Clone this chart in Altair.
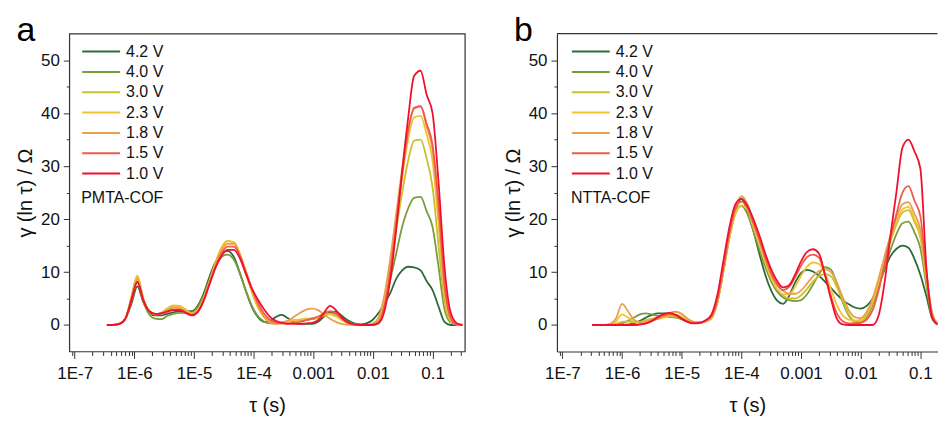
import math
import altair as alt
import pandas as pd

FONT = "Liberation Sans"

SERIES = ["4.2 V", "4.0 V", "3.0 V", "2.3 V", "1.8 V", "1.5 V", "1.0 V"]
COLORS = ["#2d6a38", "#7b9b3c", "#cbbf2a", "#f2c233", "#e9a04d", "#f05a4a", "#f0102e"]

# x tick marks (log axis)
X_MAJOR = [1e-7, 1e-6, 1e-5, 1e-4, 1e-3, 1e-2, 1e-1]
X_LABELS = ["1E-7", "1E-6", "1E-5", "1E-4", "0.001", "0.01", "0.1"]
Y_TICKS = [0, 5, 10, 15, 20, 25, 30, 35, 40, 45, 50]

# ---------------- panel a : PMTA-COF ----------------
LOG_TAU_A = [-6.46, -6.36, -6.25, -6.15, -6.05, -5.95, -5.85, -5.75, -5.65, -5.55,
             -5.45, -5.35, -5.24, -5.14, -5.04, -4.94, -4.84, -4.74, -4.64, -4.54,
             -4.44, -4.33, -4.23, -4.13, -4.03, -3.93, -3.83, -3.73, -3.63, -3.53,
             -3.43, -3.33, -3.22, -3.12, -3.02, -2.92, -2.82, -2.72, -2.62, -2.52,
             -2.42, -2.31, -2.21, -2.11, -2.01, -1.91, -1.81, -1.71, -1.61, -1.51,
             -1.41, -1.31, -1.20, -1.10, -1.00, -0.90, -0.80, -0.70, -0.60, -0.50]

A_42 = [0, 0, 0.2, 1.2, 4.0, 7.3, 4.3, 2.4, 1.8, 1.8,
        2.1, 2.4, 2.6, 2.6, 2.6, 3.6, 5.9, 9.1, 11.9, 13.5,
        14.0, 12.8, 9.8, 6.4, 3.4, 1.5, 0.6, 0.7, 1.5, 1.9,
        1.3, 0.5, 0.2, 0.2, 0.2, 0.6, 1.6, 2.4, 2.5, 1.7,
        0.9, 0.3, 0.1, 0.3, 0.9, 2.2, 4.0, 6.0, 8.7, 10.3,
        11.0, 10.9, 10.3, 8.3, 6.6, 3.5, 0.6, 0, 0, 0]
A_40 = [0, 0, 0.2, 1.2, 5.0, 9.0, 4.5, 2.0, 1.2, 1.1,
        1.7, 2.1, 2.3, 2.3, 2.4, 3.3, 5.5, 8.5, 11.2, 12.8,
        13.3, 12.3, 9.7, 6.5, 3.6, 1.7, 0.7, 0.3, 0.3, 0.5,
        0.7, 0.8, 0.9, 1.0, 1.1, 1.4, 1.9, 2.2, 2.0, 1.3,
        0.5, 0.1, 0, 0, 0.2, 1.2, 4.0, 8.5, 13.5, 18.5,
        22.0, 24.0, 24.2, 21.5, 18.5, 11.0, 3.0, 0.5, 0.1, 0]
A_30 = [0, 0, 0.2, 1.2, 5.3, 9.3, 5.0, 2.6, 2.0, 2.3,
        3.1, 3.7, 3.6, 2.9, 2.2, 2.8, 5.0, 8.3, 11.8, 14.6,
        15.9, 15.6, 13.3, 9.8, 6.2, 3.4, 1.6, 0.7, 0.4, 0.5,
        0.7, 0.9, 1.0, 1.1, 1.2, 1.4, 1.8, 2.1, 1.8, 1.0,
        0.4, 0.1, 0, 0, 0.1, 1.0, 4.3, 10.5, 18.0, 25.0,
        31.0, 34.8, 35.0, 31.5, 26.0, 15.0, 4.5, 0.8, 0.1, 0]
A_23 = [0, 0, 0.2, 1.2, 5.3, 9.2, 5.0, 2.6, 2.0, 2.3,
        3.0, 3.6, 3.5, 2.9, 2.2, 2.8, 4.9, 8.2, 11.7, 14.5,
        15.8, 15.6, 13.4, 10.0, 6.4, 3.5, 1.6, 0.7, 0.4, 0.4,
        0.6, 0.9, 1.0, 1.2, 1.3, 1.5, 1.8, 2.0, 1.6, 0.9,
        0.3, 0.1, 0, 0, 0.1, 1.1, 4.8, 11.5, 20.0, 28.0,
        35.0, 39.2, 39.5, 36.0, 31.0, 19.0, 6.0, 1.0, 0.1, 0]
A_18 = [0, 0, 0.2, 1.2, 5.0, 8.6, 4.8, 2.6, 2.0, 2.2,
        2.8, 3.3, 3.2, 2.6, 2.0, 2.6, 4.7, 8.0, 11.3, 14.0,
        15.3, 15.3, 13.3, 10.2, 6.8, 3.8, 1.6, 0.5, 0.2, 0.3,
        0.8, 1.5, 2.3, 2.9, 3.1, 2.8, 2.0, 1.2, 0.6, 0.2,
        0.05, 0, 0, 0, 0.1, 1.3, 5.5, 12.5, 21.0, 29.5,
        37.0, 40.8, 41.3, 37.5, 33.0, 21.0, 7.0, 1.2, 0.1, 0]
A_15 = [0, 0, 0.2, 1.2, 4.6, 8.0, 4.6, 2.6, 2.1, 2.2,
        2.6, 2.9, 2.9, 2.4, 1.9, 2.5, 4.6, 7.8, 11.0, 13.5,
        14.8, 14.8, 13.0, 10.0, 6.9, 4.2, 2.2, 1.0, 0.5, 0.3,
        0.3, 0.4, 0.6, 0.9, 1.2, 1.6, 2.2, 2.6, 2.2, 1.2,
        0.4, 0.1, 0, 0, 0, 0.5, 3.5, 10.0, 19.0, 28.5,
        36.5, 41.0, 41.3, 38.0, 34.0, 23.0, 8.0, 1.5, 0.1, 0]
A_10 = [0, 0, 0.2, 1.2, 4.7, 8.2, 4.7, 2.6, 2.1, 2.2,
        2.5, 2.8, 2.8, 2.3, 1.8, 2.4, 4.5, 7.7, 10.8, 13.0,
        14.2, 14.2, 12.6, 9.6, 6.9, 4.8, 3.0, 1.6, 0.8, 0.4,
        0.2, 0.2, 0.2, 0.3, 0.4, 0.9, 2.3, 3.6, 2.8, 1.4,
        0.5, 0.1, 0, 0, 0, 0.3, 2.5, 8.5, 18.0, 29.0,
        39.0, 47.0, 48.0, 43.5, 40.0, 27.0, 11.0, 2.5, 0.4, 0]

# ---------------- panel b : NTTA-COF ----------------
LOG_TAU_B = [-6.5, -6.4, -6.3, -6.2, -6.1, -6.0, -5.9, -5.8, -5.7, -5.6,
             -5.5, -5.4, -5.3, -5.2, -5.1, -5.0, -4.9, -4.8, -4.7, -4.6,
             -4.5, -4.4, -4.3, -4.2, -4.1, -4.0, -3.9, -3.8, -3.7, -3.6,
             -3.5, -3.4, -3.3, -3.2, -3.1, -3.0, -2.9, -2.8, -2.7, -2.6,
             -2.5, -2.4, -2.3, -2.2, -2.1, -2.0, -1.9, -1.8, -1.7, -1.6,
             -1.5, -1.4, -1.3, -1.2, -1.1, -1.0, -0.9, -0.8, -0.7, -0.6, -0.5]

B_42 = [0, 0, 0, 0, 0, 0, 0.1, 0.3, 0.8, 1.4,
        1.9, 2.2, 2.2, 2.0, 1.6, 1.1, 0.6, 0.4, 0.4, 0.7,
        1.4, 4.6, 10.5, 17.0, 21.6, 23.8, 21.5, 17.8, 13.5, 9.5,
        6.5, 4.6, 4.0, 5.5, 8.0, 9.8, 10.4, 10.1, 9.3, 8.2,
        7.0, 5.8, 4.7, 3.9, 3.3, 3.1, 3.6, 5.0, 7.5, 10.5,
        13.0, 14.4, 15.0, 14.6, 12.5, 9.5, 5.5, 1.2, 0.1, 0, 0]
B_40 = [0, 0, 0, 0, 0.1, 0.3, 0.8, 1.4, 2.0, 2.2,
        2.0, 1.7, 1.6, 1.5, 1.4, 1.1, 0.7, 0.5, 0.5, 0.7,
        1.3, 4.4, 10.2, 16.5, 21.0, 22.5, 21.0, 17.8, 14.3, 11.0,
        8.2, 6.3, 5.2, 4.7, 4.5, 4.7, 5.8, 7.6, 9.6, 10.9,
        10.5, 7.8, 4.2, 1.8, 0.6, 0.5, 1.5, 3.8, 7.2, 10.8,
        14.2, 17.2, 19.2, 19.5, 17.5, 14.5, 7.5, 1.2, 0.1, 0, 0]
B_30 = [0, 0, 0, 0, 0.2, 0.6, 0.7, 0.5, 0.6, 0.9,
        1.2, 1.4, 1.6, 1.7, 1.6, 1.3, 0.9, 0.6, 0.5, 0.7,
        1.3, 4.5, 10.5, 17.0, 22.0, 24.3, 22.8, 19.2, 15.5, 12.0,
        9.0, 6.8, 5.6, 5.0, 5.0, 5.6, 6.8, 8.2, 9.2, 9.6,
        9.2, 7.2, 4.5, 2.0, 0.8, 0.7, 1.8, 4.2, 8.0, 12.0,
        15.8, 19.0, 21.2, 21.7, 19.5, 16.5, 8.5, 1.8, 0.2, 0, 0]
B_23 = [0, 0, 0, 0.1, 0.7, 2.0, 1.4, 0.7, 0.5, 0.7,
        0.9, 1.1, 1.4, 1.7, 1.9, 1.6, 1.0, 0.6, 0.5, 0.7,
        1.3, 4.4, 10.2, 16.5, 21.0, 22.6, 21.8, 18.5, 15.2, 11.8,
        8.8, 6.8, 5.8, 5.8, 7.2, 9.3, 11.0, 11.8, 11.5, 9.8,
        6.8, 3.8, 1.8, 1.0, 0.8, 1.0, 2.2, 4.5, 8.2, 12.5,
        16.5, 19.5, 21.8, 22.3, 20.0, 17.0, 9.0, 2.0, 0.2, 0, 0]
B_18 = [0, 0, 0, 0.2, 1.3, 4.0, 2.6, 1.0, 0.5, 0.7,
        1.0, 1.3, 1.8, 2.3, 2.5, 2.1, 1.2, 0.6, 0.5, 0.8,
        1.5, 4.6, 10.5, 17.0, 22.0, 24.3, 22.8, 19.5, 16.0, 12.5,
        9.5, 7.5, 6.4, 5.9, 5.9, 6.5, 7.8, 9.2, 10.2, 10.5,
        10.0, 8.0, 5.2, 2.8, 1.5, 1.3, 2.5, 5.0, 8.8, 13.0,
        17.0, 20.3, 22.8, 23.2, 21.0, 18.0, 9.5, 2.2, 0.2, 0, 0]
B_15 = [0, 0, 0, 0, 0, 0, 0, 0, 0.1, 0.3,
        0.7, 1.3, 1.8, 2.0, 1.8, 1.2, 0.6, 0.4, 0.4, 0.8,
        1.7, 5.0, 11.0, 17.5, 22.0, 23.3, 22.2, 19.3, 16.2, 12.8,
        9.8, 7.7, 6.6, 7.2, 9.0, 11.2, 12.8, 13.3, 12.7, 9.6,
        5.5, 2.2, 0.7, 0.3, 0.3, 0.4, 1.0, 2.8, 6.5, 11.5,
        16.5, 21.0, 25.0, 26.2, 23.5, 20.5, 10.0, 1.8, 0.2, 0, 0]
B_10 = [0, 0, 0, 0, 0, 0, 0, 0, 0.1, 0.3,
        0.8, 1.5, 2.1, 2.3, 1.9, 1.2, 0.6, 0.3, 0.4, 0.9,
        2.0, 5.8, 12.2, 18.5, 22.8, 23.8, 22.5, 20.0, 17.0, 13.5,
        10.5, 8.3, 7.1, 7.5, 9.5, 12.0, 13.8, 14.3, 13.5, 9.5,
        5.0, 1.2, 0.1, 0, 0, 0, 0, 0, 1.8, 8.0,
        17.0, 25.2, 33.5, 35.0, 32.8, 29.5, 11.0, 1.3, 0.1, 0, 0]

CURVES_A = dict(zip(SERIES, [A_42, A_40, A_30, A_23, A_18, A_15, A_10]))
CURVES_B = dict(zip(SERIES, [B_42, B_40, B_30, B_23, B_18, B_15, B_10]))

TAU_MIN = 8.1e-8
TAU_MAX_A = 0.347     # full right edge of panel a
TAU_MAX_B = 0.1937    # panel b is cut at the picture's right edge
FRAME = "#333333"
PLOT_H = 319


def long_table(log_tau, curves):
    rows = []
    for s in SERIES:
        for lt, v in zip(log_tau, curves[s]):
            rows.append({"series": s, "tau": 10 ** lt, "gamma": v})
    return pd.DataFrame(rows)


LOG10 = "(log(datum.value)/LN10)"
MAJOR_TEST = f"abs({LOG10} - round({LOG10})) < 0.001"
lab_expr = "''"
for m, lab in reversed(list(zip(X_MAJOR, X_LABELS))):
    lab_expr = f"round({LOG10}) == {round(math.log10(m))} ? '{lab}' : ({lab_expr})"
X_LABEL_EXPR = f"({MAJOR_TEST}) ? ({lab_expr}) : ''"


def panel(df, letter, name, legend_x, letter_dx, tau_max, width, full_frame):
    x_ticks = sorted(t for t in [k * m for m in [1e-8] + X_MAJOR for k in range(1, 10)]
                     if TAU_MIN <= t <= tau_max)
    x_scale = alt.Scale(type="log", domain=[TAU_MIN, tau_max], nice=False)
    y_scale = alt.Scale(domain=[-5, 55], nice=False, zero=False)
    x_axis = alt.Axis(
        values=x_ticks, labelExpr=X_LABEL_EXPR,
        tickSize={"condition": {"test": MAJOR_TEST, "value": 7}, "value": 4},
        labelFontSize=17, labelFont=FONT, labelColor="#111", labelPadding=7,
        labelOverlap=False, labelFlush=False, labelBound=False,
        tickColor=FRAME, tickWidth=1, grid=False,
        domain=not full_frame, domainColor=FRAME, domainWidth=1.2,
        title="τ (s)", titleFont=FONT, titleFontSize=20, titleFontWeight="normal",
        titleColor="#111", titlePadding=14,
    )
    y_axis = alt.Axis(
        values=Y_TICKS, labelExpr="datum.value % 10 == 0 ? datum.label : ''",
        tickSize={"condition": {"test": "datum.value % 10 == 0", "value": 6}, "value": 3},
        labelFontSize=17, labelFont=FONT, labelColor="#111", labelPadding=4,
        tickColor=FRAME, tickWidth=1, grid=False,
        domain=not full_frame, domainColor=FRAME, domainWidth=1.2,
        minExtent=30, maxExtent=30,
        title="γ (ln τ) / Ω", titleFont=FONT, titleFontSize=20, titleFontWeight="normal",
        titleColor="#111", titlePadding=3.5,
    )
    legend = alt.Legend(
        title=name, orient="none", legendX=legend_x, legendY=10,
        titleOrient="bottom", titleAnchor="start", titleFont=FONT, titleFontSize=16,
        titleFontWeight="normal", titleColor="#111", titlePadding=9,
        labelFont=FONT, labelFontSize=16, labelColor="#111", labelOffset=5,
        symbolType="stroke", symbolSize=1444, symbolStrokeWidth=2,
        rowPadding=4.4, padding=0, clipHeight=16,
    )
    lines = alt.Chart(df).mark_line(strokeWidth=1.8, interpolate="monotone", clip=True).encode(
        x=alt.X("tau:Q", scale=x_scale, axis=x_axis),
        y=alt.Y("gamma:Q", scale=y_scale, axis=y_axis),
        color=alt.Color("series:N", scale=alt.Scale(domain=SERIES, range=COLORS),
                        legend=legend),
    )
    letter_df = pd.DataFrame({"letter": [letter]})
    letter_mark = alt.Chart(letter_df).mark_text(
        font=FONT, fontSize=34, align="left", baseline="alphabetic", color="black"
    ).encode(x=alt.value(letter_dx), y=alt.value(7), text="letter:N")
    layers = [lines, letter_mark]
    if full_frame:
        view = alt.ViewBackground(stroke=FRAME, strokeWidth=1.2)
    else:
        # top edge of the frame; the right edge lies outside the picture
        top_edge = alt.Chart(letter_df).mark_rule(color=FRAME, strokeWidth=1.2).encode(
            x=alt.value(0), x2=alt.value(width), y=alt.value(0))
        layers.append(top_edge)
        view = alt.ViewBackground(strokeOpacity=0)
    return alt.layer(*layers).properties(width=width, height=PLOT_H, view=view)


chart_a = panel(long_table(LOG_TAU_A, CURVES_A), "a", "PMTA-COF", 12, -53,
                TAU_MAX_A, 397, True)
chart_b = panel(long_table(LOG_TAU_B, CURVES_B), "b", "NTTA-COF", 14, -43,
                TAU_MAX_B, 382, False)

chart = alt.hconcat(chart_a, chart_b, spacing=37.5).resolve_scale(
    color="independent").resolve_legend(color="independent").properties(
    padding={"left": 6.5, "top": 4, "right": 0, "bottom": 0}
).configure(font=FONT, background="white")

chart.save("out.html", embed_options={"renderer": "svg", "actions": False})
